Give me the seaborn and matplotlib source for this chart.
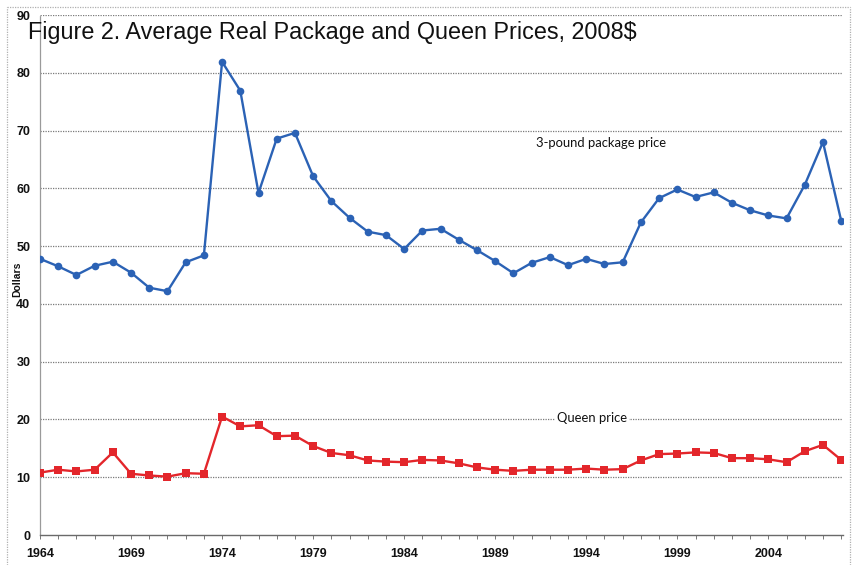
import matplotlib
matplotlib.use("Agg")
import matplotlib.pyplot as plt
import seaborn as sns
import pandas as pd
from matplotlib.ticker import MultipleLocator, FixedLocator
from matplotlib.lines import Line2D

years = list(range(1964, 2009))
package_price = [47.8, 46.5, 45.0, 46.6, 47.3, 45.4, 42.8, 42.2, 47.2, 48.4,
                 81.9, 76.9, 59.2, 68.6, 69.6, 62.1, 57.8, 54.9, 52.5, 51.9,
                 49.5, 52.7, 53.0, 51.1, 49.3, 47.4, 45.3, 47.1, 48.1, 46.7,
                 47.8, 46.9, 47.2, 54.1, 58.3, 59.8, 58.5, 59.3, 57.5, 56.2,
                 55.3, 54.8, 60.6, 68.0, 54.4]
queen_price = [10.8, 11.3, 11.0, 11.3, 14.3, 10.6, 10.3, 10.1, 10.7, 10.6,
               20.5, 18.8, 19.0, 17.1, 17.2, 15.4, 14.2, 13.8, 12.9, 12.7,
               12.6, 13.0, 12.9, 12.4, 11.7, 11.3, 11.1, 11.3, 11.3, 11.3,
               11.5, 11.3, 11.4, 12.9, 14.0, 14.1, 14.3, 14.2, 13.3, 13.3,
               13.1, 12.6, 14.5, 15.6, 13.0]
year_labels = [1964, 1969, 1974, 1979, 1984, 1989, 1994, 1999, 2004]
y_ticks = [0, 10, 20, 30, 40, 50, 60, 70, 80, 90]

df = pd.DataFrame({"year": years, "package": package_price, "queen": queen_price})

sns.set_theme(style="white")
plt.rcParams["font.family"] = ["Liberation Sans", "DejaVu Sans"]

W, H = 853, 565
fig = plt.figure(figsize=(W / 100, H / 100), dpi=100)
ax = fig.add_axes([40 / W, (H - 535) / H, (843 - 40) / W, (535 - 15) / H])

blue = "#2b62b5"
red = "#e3262b"
sns.lineplot(data=df, x="year", y="package", ax=ax, color=blue, linewidth=1.7,
             marker="o", markersize=5.5, markeredgewidth=0, zorder=3)
sns.lineplot(data=df, x="year", y="queen", ax=ax, color=red, linewidth=1.7,
             marker="s", markersize=5.5, markeredgewidth=0, zorder=3)

ax.set_xlim(1964, 2008.1)
ax.set_ylim(0, 90)
ax.set_xlabel("")
ax.set_ylabel("")

ax.yaxis.set_major_locator(FixedLocator(y_ticks))
ax.xaxis.set_major_locator(FixedLocator(year_labels))
ax.xaxis.set_minor_locator(MultipleLocator(1))
ax.set_xticklabels([str(y) for y in year_labels])

for t in y_ticks[1:]:
    ax.axhline(t, color="#7a7a7a", linewidth=0.9, linestyle=(0, (1, 1)), zorder=1)

for s in ["top", "right"]:
    ax.spines[s].set_visible(False)
ax.spines["left"].set_color("#9a9a9a")
ax.spines["left"].set_linestyle((0, (1, 1)))
ax.spines["left"].set_linewidth(0.9)
ax.spines["bottom"].set_color("#6a6a6a")
ax.spines["bottom"].set_linestyle((0, (1, 1)))
ax.spines["bottom"].set_linewidth(1.0)

ax.tick_params(axis="y", length=0, pad=7, labelsize=9, labelcolor="#111111")
ax.tick_params(axis="x", which="both", bottom=True, direction="out", length=3,
               width=0.7, color="#777777", pad=6.5, labelsize=9, labelcolor="#111111")
for lab in ax.get_xticklabels() + ax.get_yticklabels():
    lab.set_fontweight("bold")

fig.text(28 / W, 1 - 39 / H, "Figure 2. Average Real Package and Queen Prices, 2008$",
         fontsize=16.8, ha="left", va="baseline", color="#111111")
fig.text(17 / W, 1 - 279 / H, "Dollars", rotation=90, fontsize=7.5, fontweight="bold",
         ha="center", va="center", color="#111111")

ax.text(1994.8, 67.8, "3-pound package price", fontsize=9.4, family="Lato",
        ha="center", va="center", color="#111111", zorder=4)
ax.text(1994.3, 20.3, "Queen price", fontsize=9.4, family="Lato",
        ha="center", va="center", color="#111111", zorder=4,
        bbox=dict(facecolor="white", edgecolor="none", pad=1.5))

# dotted frame around the figure
frame_kw = dict(color="#b0b0b0", linewidth=0.9, linestyle=(0, (1, 1)),
                transform=fig.transFigure)
fig.add_artist(Line2D([7 / W, 7 / W], [0, 1 - 7 / H], **frame_kw))
fig.add_artist(Line2D([7 / W, 850 / W], [1 - 7 / H, 1 - 7 / H], **frame_kw))
fig.add_artist(Line2D([850 / W, 850 / W], [0, 1 - 7 / H], **frame_kw))

fig.savefig("out.png", dpi=100, facecolor="white")
